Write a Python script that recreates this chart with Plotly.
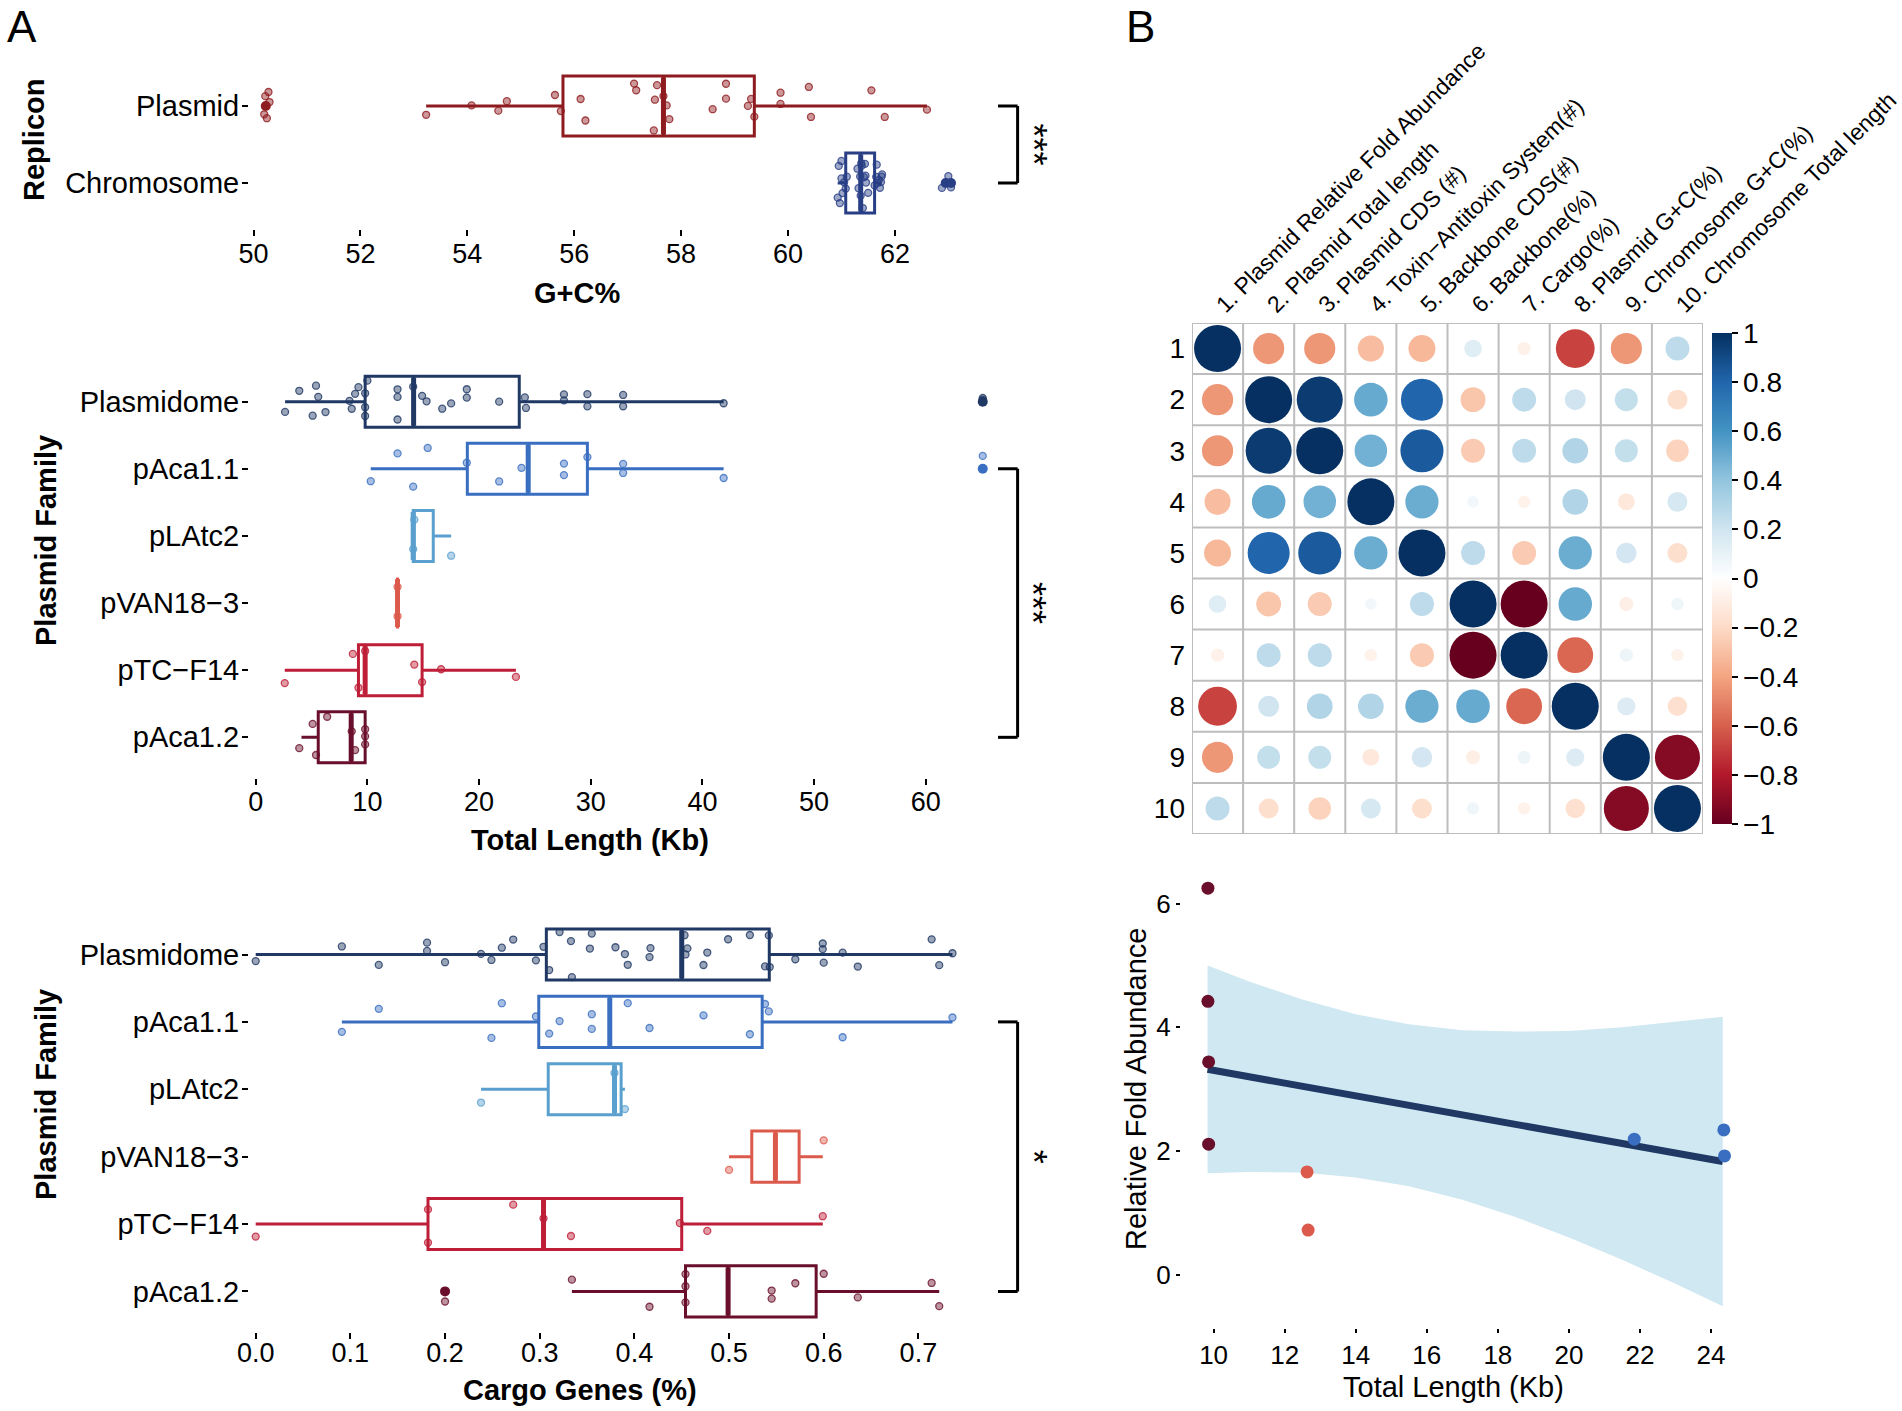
import numpy as np
import plotly.graph_objects as go

W, H = 1902, 1411
FONT = "Liberation Sans, Arial, Helvetica, sans-serif"

# ---------------- Panel A (top): G+C% by replicon ----------------
gc_categories = ["Plasmid", "Chromosome"]
gc_colors = ["#8E1B1F", "#283F86"]
gc_q1 = [55.79, 61.08]
gc_median = [57.67, 61.36]
gc_q3 = [59.37, 61.62]
gc_lowerfence = [53.23, 60.93]
gc_upperfence = [62.60, 61.75]
gc_pts_plasmid = [50.20, 50.22, 50.25, 50.28, 50.30, 53.23, 54.08, 54.58, 54.74, 55.64,
                  55.75, 56.12, 56.21, 57.12, 57.16, 57.49, 57.51, 57.55, 57.67, 57.73,
                  57.78, 58.59, 58.84, 58.84, 59.25, 59.31, 59.37, 59.86, 59.86, 60.39,
                  60.43, 61.56, 61.81, 62.60]
gc_pts_chromosome = [60.93, 60.95, 60.97, 61.00, 61.00, 61.02, 61.05, 61.08, 61.10, 61.30,
                     61.32, 61.35, 61.36, 61.37, 61.38, 61.40, 61.42, 61.44, 61.45, 61.46,
                     61.50, 61.62, 61.65, 61.66, 61.68, 61.70, 61.72, 61.74, 61.75, 61.76,
                     62.88, 63.00, 63.05]
gc_out_plasmid = [50.23]
gc_out_chromosome = [62.95, 63.05]

# ---------------- Panel A (middle/bottom): plasmid families ----------------
families = ["Plasmidome", "pAca1.1", "pLAtc2", "pVAN18\u22123", "pTC\u2212F14", "pAca1.2"]
family_colors = ["#1F3864", "#3A6EC1", "#5AA0CF", "#DC5A4B", "#BE1E37", "#6A0F2B"]

len_q1 = [9.80, 18.95, 14.10, 12.70, 9.20, 5.60]
len_median = [14.14, 24.40, 14.10, 12.70, 9.80, 8.55]
len_q3 = [23.60, 29.70, 15.90, 12.70, 14.90, 9.80]
len_lowerfence = [2.63, 10.30, 14.10, 12.70, 2.60, 4.10]
len_upperfence = [41.90, 41.90, 17.50, 12.70, 23.30, 9.80]
len_pts_plasmidome = [2.63, 3.9, 5.1, 5.4, 5.6, 6.25, 8.4, 8.6, 8.9, 9.2, 9.8, 9.8, 9.8, 10.0,
                      12.7, 12.7, 12.7, 14.1, 14.9, 15.3, 16.7, 17.5, 18.9, 18.9, 21.8, 24.1,
                      24.2, 27.6, 27.6, 29.7, 29.7, 32.9, 32.9, 41.9, 65.1, 65.1]
len_pts_paca11 = [10.3, 12.7, 14.1, 15.4, 18.9, 21.8, 23.8, 27.6, 27.6, 29.7, 32.9, 32.9, 41.9, 65.1]
len_pts_platc2 = [14.1, 14.2, 17.5]
len_pts_pvan183 = [12.7, 12.7]
len_pts_ptcf14 = [2.6, 8.7, 9.2, 9.8, 14.2, 14.9, 16.6, 23.3]
len_pts_paca12 = [3.9, 5.1, 5.4, 6.4, 8.6, 8.9, 9.8, 9.8, 9.8]
len_outliers = [[65.1], [65.1], [], [], [], []]

cargo_q1 = [0.307, 0.299, 0.309, 0.524, 0.182, 0.454]
cargo_median = [0.450, 0.374, 0.379, 0.549, 0.304, 0.499]
cargo_q3 = [0.5425, 0.535, 0.386, 0.574, 0.450, 0.592]
cargo_lowerfence = [0.000, 0.091, 0.238, 0.500, 0.000, 0.334]
cargo_upperfence = [0.736, 0.736, 0.390, 0.599, 0.599, 0.722]
cargo_pts_plasmidome = [0.0, 0.091, 0.13, 0.181, 0.181, 0.2, 0.238, 0.249, 0.26, 0.272, 0.296,
                        0.304, 0.31, 0.321, 0.333, 0.334, 0.353, 0.355, 0.38, 0.39, 0.393,
                        0.416, 0.417, 0.453, 0.454, 0.456, 0.473, 0.477, 0.499, 0.522, 0.538,
                        0.542, 0.543, 0.57, 0.599, 0.599, 0.6, 0.62, 0.636, 0.714, 0.722, 0.736]
cargo_pts_paca11 = [0.091, 0.13, 0.249, 0.26, 0.296, 0.31, 0.321, 0.355, 0.355, 0.393, 0.416,
                    0.473, 0.522, 0.538, 0.542, 0.62, 0.736]
cargo_pts_platc2 = [0.238, 0.379, 0.39]
cargo_pts_pvan183 = [0.5, 0.6]
cargo_pts_ptcf14 = [0.0, 0.182, 0.182, 0.272, 0.304, 0.333, 0.448, 0.477, 0.599]
cargo_pts_paca12 = [0.2, 0.334, 0.416, 0.454, 0.454, 0.454, 0.545, 0.545, 0.57, 0.6, 0.636, 0.714, 0.722]
cargo_outliers = [[], [], [], [], [], [0.2]]

# ---------------- Panel B: correlation matrix ----------------
corr_labels = ["1. Plasmid Relative Fold Abundance", "2. Plasmid Total length", "3. Plasmid CDS (#)",
               "4. Toxin\u2212Antitoxin System(#)", "5. Backbone CDS(#)", "6. Backbone(%)",
               "7. Cargo(%)", "8. Plasmid G+C(%)", "9. Chromosome G+C(%)", "10. Chromosome Total length"]
corr_values = [
    [1.00, -0.44, -0.44, -0.31, -0.33, 0.14, -0.08, -0.68, -0.44, 0.26],
    [-0.44, 1.00, 0.96, 0.51, 0.80, -0.28, 0.26, 0.20, 0.24, -0.18],
    [-0.44, 0.96, 1.00, 0.48, 0.84, -0.26, 0.26, 0.30, 0.24, -0.23],
    [-0.31, 0.51, 0.48, 1.00, 0.50, 0.06, -0.07, 0.30, -0.13, 0.18],
    [-0.33, 0.80, 0.84, 0.50, 1.00, 0.26, -0.26, 0.50, 0.19, -0.18],
    [0.14, -0.28, -0.26, 0.06, 0.26, 1.00, -1.00, 0.51, -0.09, 0.07],
    [-0.08, 0.26, 0.26, -0.07, -0.26, -1.00, 1.00, -0.58, 0.08, -0.07],
    [-0.68, 0.20, 0.30, 0.30, 0.50, 0.51, -0.58, 1.00, 0.15, -0.17],
    [-0.44, 0.24, 0.24, -0.13, 0.19, -0.09, 0.08, 0.15, 1.00, -0.92],
    [0.26, -0.18, -0.23, 0.18, -0.18, 0.07, -0.07, -0.17, -0.92, 1.00],
]
rdbu = ["#67001F", "#B2182B", "#D6604D", "#F4A582", "#FDDBC7", "#FFFFFF",
        "#D1E5F0", "#92C5DE", "#4393C3", "#2166AC", "#053061"]

# ---------------- Panel B: abundance vs length ----------------
sc_length = [9.84, 9.84, 9.86, 9.86, 12.63, 12.66, 21.84, 24.36, 24.38]
sc_abundance = [6.25, 4.42, 3.44, 2.11, 1.66, 0.72, 2.19, 2.34, 1.92]
sc_family = ["pAca1.2", "pAca1.2", "pAca1.2", "pAca1.2", "pVAN18\u22123", "pVAN18\u22123",
             "pAca1.1", "pAca1.1", "pAca1.1"]
fit_x = [9.83, 11.0, 12.5, 14.0, 15.5, 17.0, 18.5, 20.0, 21.5, 23.0, 24.33]
fit_y = [3.32, 3.20, 3.05, 2.89, 2.74, 2.58, 2.43, 2.27, 2.12, 1.97, 1.83]
ci_upper = [5.00, 4.74, 4.45, 4.21, 4.05, 3.95, 3.93, 3.94, 4.00, 4.09, 4.17]
ci_lower = [1.64, 1.66, 1.65, 1.57, 1.43, 1.21, 0.93, 0.60, 0.24, -0.15, -0.51]

# =========================================================================
fig = go.Figure()


def xp(px):
    return px / W


def yp(px):
    return 1 - px / H


def rng(px_a, px_b, v_ref, px_ref, px_per_unit, sign=1):
    return [v_ref + sign * (px_a - px_ref) / px_per_unit, v_ref + sign * (px_b - px_ref) / px_per_unit]


def rgba(hexc, a):
    h = hexc.lstrip("#")
    r, g, b = int(h[0:2], 16), int(h[2:4], 16), int(h[4:6], 16)
    return f"rgba({r},{g},{b},{a})"


def add_group(cat, q1, med, q3, lo, hi, pts, outl, color, xa, ya, width, box_px):
    fig.add_trace(go.Box(
        y=[cat], q1=[q1], median=[med], q3=[q3], lowerfence=[lo], upperfence=[hi],
        orientation="h", width=width, whiskerwidth=0, boxpoints=False,
        line=dict(color=color, width=3), fillcolor="rgba(0,0,0,0)",
        xaxis=xa, yaxis=ya, hoverinfo="skip", showlegend=False))
    # thicker median bar (line-ns symbol spans 1.4 x size)
    fig.add_trace(go.Scatter(
        x=[med], y=[cat], mode="markers", xaxis=xa, yaxis=ya, hoverinfo="skip",
        marker=dict(symbol="line-ns", size=(box_px - 3) / 1.4, opacity=1, line=dict(color=color, width=5)),
        showlegend=False))
    fig.add_trace(go.Box(
        x=pts, y=[cat] * len(pts), orientation="h", width=width, boxpoints="all",
        jitter=1.0, pointpos=0, line=dict(color="rgba(0,0,0,0)", width=0),
        fillcolor="rgba(0,0,0,0)", xaxis=xa, yaxis=ya, hoverinfo="skip", showlegend=False,
        marker=dict(color=rgba(color, 0.45), size=7, opacity=1,
                    line=dict(color=rgba(color, 0.8), width=1.3))))
    if outl:
        fig.add_trace(go.Scatter(
            x=outl, y=[cat] * len(outl), mode="markers", xaxis=xa, yaxis=ya,
            marker=dict(color=color, size=10, opacity=1), hoverinfo="skip", showlegend=False))


# Panel A top
gc_pts = [gc_pts_plasmid, gc_pts_chromosome]
gc_out = [gc_out_plasmid, gc_out_chromosome]
for i, c in enumerate(gc_categories):
    add_group(c, gc_q1[i], gc_median[i], gc_q3[i], gc_lowerfence[i], gc_upperfence[i],
              gc_pts[i], gc_out[i], gc_colors[i], "x", "y", 0.78, 60)

# Panel A middle
len_pts = [len_pts_plasmidome, len_pts_paca11, len_pts_platc2, len_pts_pvan183, len_pts_ptcf14, len_pts_paca12]
for i, c in enumerate(families):
    add_group(c, len_q1[i], len_median[i], len_q3[i], len_lowerfence[i], len_upperfence[i],
              len_pts[i], len_outliers[i], family_colors[i], "x2", "y2", 0.76, 51)

# Panel A bottom
cargo_pts = [cargo_pts_plasmidome, cargo_pts_paca11, cargo_pts_platc2, cargo_pts_pvan183,
             cargo_pts_ptcf14, cargo_pts_paca12]
for i, c in enumerate(families):
    add_group(c, cargo_q1[i], cargo_median[i], cargo_q3[i], cargo_lowerfence[i], cargo_upperfence[i],
              cargo_pts[i], cargo_outliers[i], family_colors[i], "x3", "y3", 0.76, 51)

# Panel B correlation circles
n = len(corr_labels)
cx, cy, cv, cs = [], [], [], []
for i in range(n):
    for j in range(n):
        r = corr_values[i][j]
        cx.append(j + 1)
        cy.append(i + 1)
        cv.append(r)
        cs.append(47 * np.sqrt(abs(r)))
cscale = [[k / (len(rdbu) - 1), col] for k, col in enumerate(rdbu)]
fig.add_trace(go.Scatter(
    x=cx, y=cy, mode="markers", xaxis="x4", yaxis="y4", hoverinfo="skip", showlegend=False,
    marker=dict(size=cs, color=cv, cmin=-1, cmax=1, colorscale=cscale, line=dict(width=0),
                opacity=1, showscale=True,
                colorbar=dict(x=xp(1712), xanchor="left", xpad=0, y=yp((323 + 834) / 2), yanchor="middle",
                              lenmode="pixels", len=511, thickness=20, outlinewidth=0,
                              tickmode="array", tickvals=[-1, -0.8, -0.6, -0.4, -0.2, 0, 0.2, 0.4, 0.6, 0.8, 1],
                              ticktext=["\u22121", "\u22120.8", "\u22120.6", "\u22120.4", "\u22120.2", "0",
                                        "0.2", "0.4", "0.6", "0.8", "1"],
                              ticks="outside", ticklen=6, tickwidth=2, tickcolor="black",
                              tickfont=dict(family=FONT, size=28, color="black")))))

# Panel B scatter
color_of = dict(zip(families, family_colors))
fig.add_trace(go.Scatter(
    x=fit_x + fit_x[::-1], y=ci_upper + ci_lower[::-1], fill="toself", fillcolor="#D0E8F2",
    line=dict(width=0), mode="lines", xaxis="x5", yaxis="y5", hoverinfo="skip", showlegend=False))
fig.add_trace(go.Scatter(
    x=fit_x, y=fit_y, mode="lines", line=dict(color="#1F3864", width=7),
    xaxis="x5", yaxis="y5", hoverinfo="skip", showlegend=False))
fig.add_trace(go.Scatter(
    x=sc_length, y=sc_abundance, mode="markers", xaxis="x5", yaxis="y5", hoverinfo="skip",
    marker=dict(size=13, opacity=1, color=[color_of[f] for f in sc_family]), showlegend=False))

# ---------------- Axes ----------------
common = dict(showgrid=False, zeroline=False, showline=False, automargin=False)
base_x = dict(common, ticks="outside", ticklen=6, tickwidth=2, tickcolor="black",
              tickfont=dict(family=FONT, size=27, color="black"), ticklabelstandoff=-6)
base_y = dict(common, ticks="outside", ticklen=6, tickwidth=2, tickcolor="black",
              tickfont=dict(family=FONT, size=29, color="black"), type="category",
              ticklabelstandoff=-3)

layout = dict(
    template="none",
    width=W, height=H, autosize=False, margin=dict(l=0, r=0, t=0, b=0, pad=0, autoexpand=False),
    paper_bgcolor="white", plot_bgcolor="white", boxmode="overlay", showlegend=False,
    font=dict(family=FONT, color="black"),
)

# A top
layout["xaxis"] = dict(base_x, domain=[xp(249), xp(964)], anchor="y",
                       range=rng(249, 964, 50, 253.5, 53.45), tickvals=[50, 52, 54, 56, 58, 60, 62])
layout["yaxis"] = dict(base_y, domain=[yp(229.2), yp(59.8)], anchor="x",
                       categoryorder="array", categoryarray=gc_categories, range=[1.6, -0.6])
# A middle
layout["xaxis2"] = dict(base_x, domain=[xp(249), xp(998)], anchor="y2",
                        range=rng(249, 998, 0, 255.7, 11.168), tickvals=[0, 10, 20, 30, 40, 50, 60])
layout["yaxis2"] = dict(base_y, domain=[yp(777.6), yp(361.4)], anchor="x2",
                        categoryorder="array", categoryarray=families, range=[5.6, -0.6])
# A bottom
layout["xaxis3"] = dict(base_x, domain=[xp(249), xp(975)], anchor="y3",
                        range=rng(249, 975, 0, 255.7, 946.7),
                        tickvals=[0, 0.1, 0.2, 0.3, 0.4, 0.5, 0.6, 0.7], tickformat=".1f")
layout["xaxis3"]["ticklabelstandoff"] = -9
layout["yaxis3"] = dict(base_y, domain=[yp(1331.8), yp(914.1)], anchor="x3",
                        categoryorder="array", categoryarray=families, range=[5.6, -0.6])
# B correlation
layout["xaxis4"] = dict(common, domain=[xp(1192), xp(1703)], anchor="y4", range=[0.5, n + 0.5],
                        side="top", tickmode="array", tickvals=list(range(1, n + 1)), ticktext=corr_labels,
                        tickangle=-45, ticks="", tickfont=dict(family=FONT, size=23, color="black"))
layout["yaxis4"] = dict(common, domain=[yp(834), yp(323)], anchor="x4", range=[n + 0.5, 0.5],
                        tickmode="array", tickvals=list(range(1, n + 1)),
                        ticktext=[str(k) for k in range(1, n + 1)], ticks="", ticklabelstandoff=6,
                        tickfont=dict(family=FONT, size=28, color="black"))
# B scatter
layout["xaxis5"] = dict(common, domain=[xp(1181), xp(1746)], anchor="y5",
                        range=rng(1181, 1746, 10, 1213.6, 35.53), tickvals=[10, 12, 14, 16, 18, 20, 22, 24],
                        ticks="outside", ticklen=4, tickwidth=2, tickcolor="black",
                        tickfont=dict(family=FONT, size=26, color="black"))
layout["yaxis5"] = dict(common, domain=[yp(1328), yp(870)], anchor="x5",
                        range=rng(1328, 870, 0, 1274.6, 61.83, sign=-1), tickvals=[0, 2, 4, 6],
                        ticks="outside", ticklen=4, tickwidth=2, tickcolor="black",
                        tickfont=dict(family=FONT, size=26, color="black"))

# grid lines of the correlation matrix
shapes = []
for k in range(n + 1):
    shapes.append(dict(type="line", xref="x4", yref="y4", x0=k + 0.5, x1=k + 0.5, y0=0.5, y1=n + 0.5,
                       line=dict(color="#BDBDBD", width=2), layer="below"))
    shapes.append(dict(type="line", xref="x4", yref="y4", y0=k + 0.5, y1=k + 0.5, x0=0.5, x1=n + 0.5,
                       line=dict(color="#BDBDBD", width=2), layer="below"))

# significance brackets
brackets = [("y", gc_categories[0], gc_categories[1], 0.5, "***"),
            ("y2", families[1], families[5], 3, "***"),
            ("y3", families[1], families[5], 3, "*")]
annotations = []
for ya, c0, c1, mid, txt in brackets:
    shapes.append(dict(type="line", xref="paper", yref=ya, x0=xp(1017.6), x1=xp(1017.6), y0=c0, y1=c1,
                       line=dict(color="black", width=3)))
    for c in (c0, c1):
        shapes.append(dict(type="line", xref="paper", yref=ya, x0=xp(998), x1=xp(1017.6), y0=c, y1=c,
                           line=dict(color="black", width=3)))
    annotations.append(dict(text=txt, xref="paper", yref=ya, x=xp(1033), y=mid, showarrow=False,
                            textangle=90, font=dict(family=FONT, size=36, color="black")))


def ann(text, x, y, size, bold=False, angle=0):
    t = f"<b>{text}</b>" if bold else text
    annotations.append(dict(text=t, xref="paper", yref="paper", x=xp(x), y=yp(y), showarrow=False,
                            xanchor="center", yanchor="middle", textangle=angle,
                            font=dict(family=FONT, size=size, color="black")))


ann("A", 22, 26, 44)
ann("B", 1140, 26, 44)
ann("G+C%", 577, 293, 29, bold=True)
ann("Total Length (Kb)", 590, 840, 29, bold=True)
ann("Cargo Genes (%)", 580, 1390, 29, bold=True)
ann("Replicon", 34, 140, 29, bold=True, angle=-90)
ann("Plasmid Family", 46, 541, 29, bold=True, angle=-90)
ann("Plasmid Family", 46, 1095, 29, bold=True, angle=-90)
ann("Total Length (Kb)", 1453, 1387, 29)
ann("Relative Fold Abundance", 1136, 1089, 29, angle=-90)

layout["shapes"] = shapes
layout["annotations"] = annotations
fig.update_layout(**layout)

fig.write_html("out.html", config={"responsive": False, "displayModeBar": False},
               post_script="document.body.style.margin='0px';")
